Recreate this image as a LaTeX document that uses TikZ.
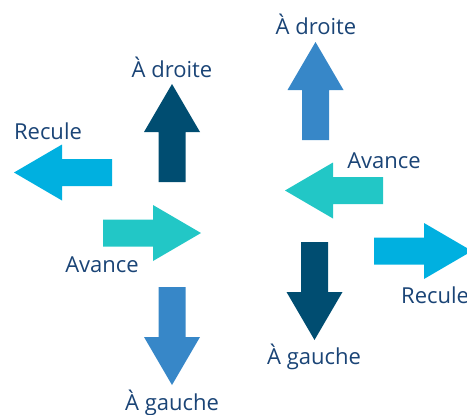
\documentclass[tikz,border=0pt]{standalone}
\usepackage{fontspec}
\setmainfont{Open Sans}
\definecolor{lblue}{HTML}{00B0E0}
\definecolor{dblue}{HTML}{004D71}
\definecolor{teal}{HTML}{22C7C6}
\definecolor{mblue}{HTML}{3787C8}
\definecolor{txt}{HTML}{1A4476}
\newcommand{\bigarrow}[4]{%
  \begin{scope}[shift={(#1,#2)},rotate=#3]
    \fill[#4] (0,-13.5) -- (50,-13.5) -- (50,-28) -- (98,0) -- (50,28) -- (50,13.5) -- (0,13.5) -- cycle;
  \end{scope}}
\begin{document}
\begin{tikzpicture}[x=1pt,y=-1pt,
  lbl/.style={text=txt,font=\fontsize{22}{26}\selectfont,inner sep=0pt}]
\useasboundingbox (0,0) rectangle (467,415);
\clip (0,0) rectangle (467,415);
% left group
\coordinate (a1) at (112,172.5); \bigarrow{112}{172.5}{180}{lblue}
\coordinate (a2) at (172,182); \bigarrow{172}{182}{90}{dblue}
\coordinate (a3) at (103,233); \bigarrow{103}{233}{0}{teal}
\coordinate (a4) at (172,287); \bigarrow{172}{287}{-90}{mblue}
\node[lbl] (l1) at (48,131) {Recule};
\node[lbl] (l2) at (172,67) {À droite};
\node[lbl] (l3) at (102,265) {Avance};
\node[lbl] (l4) at (172,403) {À gauche};
% right group
\coordinate (b1) at (315.5,140); \bigarrow{315.5}{140}{90}{mblue}
\coordinate (b2) at (383,190.5); \bigarrow{383}{190.5}{180}{teal}
\coordinate (b3) at (314.5,242); \bigarrow{314.5}{242}{-90}{dblue}
\coordinate (b4) at (374,251); \bigarrow{374}{251}{0}{lblue}
\node[lbl] (m1) at (316,24) {À droite};
\node[lbl] (m2) at (384,161) {Avance};
\node[lbl] (m3) at (314,357) {À gauche};
\node[lbl,anchor=west] (m4) at (401,295) {Recule};
\end{tikzpicture}
\end{document}
